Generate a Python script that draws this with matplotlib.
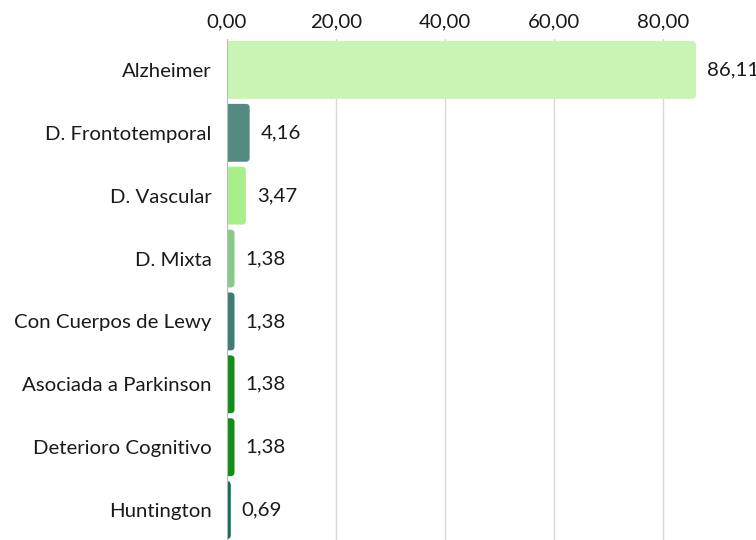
import matplotlib.pyplot as plt
from matplotlib.patches import FancyBboxPatch

# data
categorias = ['Alzheimer', 'D. Frontotemporal', 'D. Vascular', 'D. Mixta',
              'Con Cuerpos de Lewy', 'Asociada a Parkinson',
              'Deterioro Cognitivo', 'Huntington']
valores = [86.11, 4.16, 3.47, 1.38, 1.38, 1.38, 1.38, 0.69]
colores = ['#c9f5b4', '#548a80', '#a9f08c', '#86cc88',
           '#3d7d73', '#128f18', '#128f18', '#0b6e5c']
ticks = [0, 20, 40, 60, 80]

plt.rcParams['font.family'] = ['Lato', 'DejaVu Sans']

fig = plt.figure(figsize=(7.56, 5.4), dpi=100)
ax = fig.add_axes([227 / 756, -1.5 / 540, (696 - 227) / 756, 503 / 540])

y = list(range(len(categorias)))
bars = ax.barh(y, valores, height=0.92, color=colores, zorder=3)
ax.set_ylim(len(categorias) - 0.5, -0.5)
ax.set_xlim(0, 86.11)

# swap plain bars for rounded ones (left side is cut by the axis)
r = 0.7
for b in bars:
    p = FancyBboxPatch((b.get_x() - r, b.get_y()), b.get_width() + r, b.get_height(),
                       boxstyle=f'round,pad=0,rounding_size={r}', mutation_aspect=0.087,
                       facecolor=b.get_facecolor(), edgecolor='none', zorder=3)
    ax.add_patch(p)
    b.set_visible(False)

ax.set_yticks(y)
ax.set_yticklabels(categorias, fontsize=14.7, color='#1a1a1a')
ax.set_xticks(ticks)
ax.set_xticklabels([f'{t:.2f}'.replace('.', ',') for t in ticks], fontsize=14.7, color='#1a1a1a')
ax.xaxis.tick_top()
ax.tick_params(axis='both', length=0)
ax.tick_params(axis='y', pad=11)
ax.tick_params(axis='x', pad=6)

ax.grid(axis='x', color='#d9d9d9', linewidth=1, zorder=0)
for s in ['top', 'right', 'bottom']:
    ax.spines[s].set_visible(False)
ax.spines['left'].set_color('#bbbbbb')
ax.spines['left'].set_zorder(4)

for yi, v in zip(y, valores):
    ax.annotate(f'{v:.2f}'.replace('.', ','), (v, yi), xytext=(8, 0),
                textcoords='offset points', va='center', ha='left',
                fontsize=14.7, color='#1a1a1a', annotation_clip=False)

fig.savefig('out.png', dpi=100)
